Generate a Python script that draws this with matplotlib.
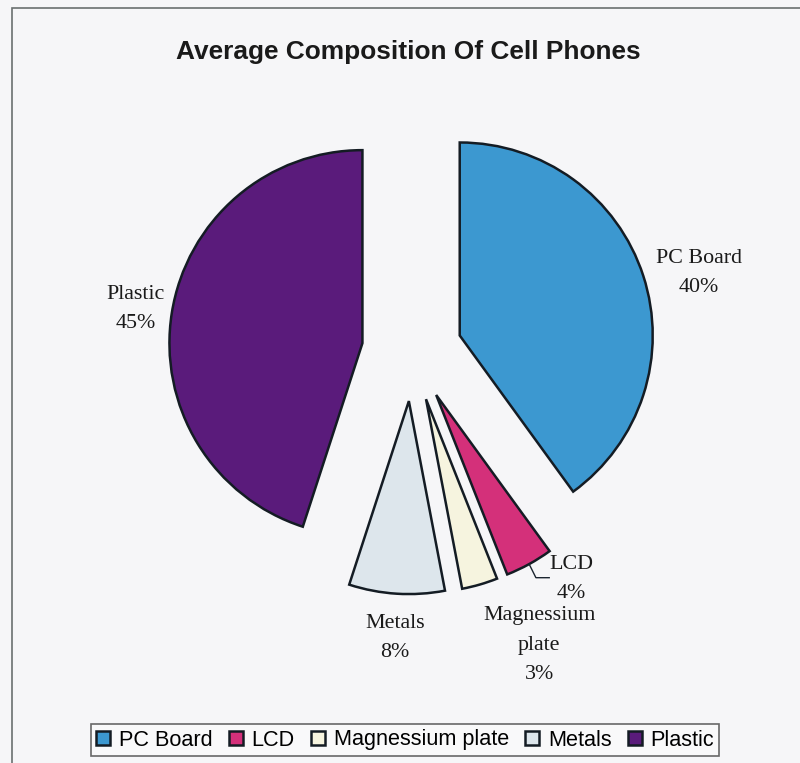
import numpy as np
import matplotlib
matplotlib.use("Agg")
import matplotlib.pyplot as plt
from matplotlib.patches import Rectangle

categories = ["PC Board", "LCD", "Magnessium plate", "Metals", "Plastic"]
values = [40, 4, 3, 8, 45]
pct_labels = ["40%", "4%", "3%", "8%", "45%"]
label_text = ["PC Board", "LCD", "Magnessium\nplate", "Metals", "Plastic"]
colors = ["#3c98d0", "#d4307a", "#f6f4df", "#dde6ec", "#5a1b7b"]
title = "Average Composition Of Cell Phones"

W, H = 800, 763
fig = plt.figure(figsize=(W / 100, H / 100), dpi=100, facecolor="#f6f6f8")

# pie center in pixels and radius in pixels
cx_px, cy_px, r_px = 412, 351, 193
ax = fig.add_axes([0, 0, 1, 1])
ax.set_facecolor("none")

explode = [0.26] * len(values)
wedges, _ = ax.pie(values, colors=colors, startangle=90, counterclock=False,
                   explode=explode, radius=1.0,
                   wedgeprops=dict(edgecolor="#141c24", linewidth=1.8))
ax.set_xlim(-cx_px / r_px, (W - cx_px) / r_px)
ax.set_ylim(-(H - cy_px) / r_px, cy_px / r_px)
ax.set_aspect("auto")
ax.axis("off")

# label placement: (angle deg, distance) from pie center
label_pos = [(15.2, 1.54), (-55.0, 1.44), (-66.6, 1.66), (-93.4, 1.49), (171.4, 1.45)]
lab_font = dict(family=["Liberation Serif", "DejaVu Serif"], fontsize=15.8,
                color="#1a1a1a", linespacing=1.72)
for (ang, dist), lt, pc in zip(label_pos, label_text, pct_labels):
    a = np.deg2rad(ang)
    ax.text(dist * np.cos(a), dist * np.sin(a), lt + "\n" + pc,
            ha="center", va="center", **lab_font)

# leader line for LCD
w = wedges[1]
mid = np.deg2rad((w.theta1 + w.theta2) / 2)
cxw, cyw = w.center
p0 = (cxw + w.r * np.cos(mid), cyw + w.r * np.sin(mid))
a_l = np.deg2rad(label_pos[1][0]); d_l = label_pos[1][1]
lx, ly = d_l * np.cos(a_l), d_l * np.sin(a_l)
p1 = (p0[0] + 0.035, ly + 0.005)
p2 = (lx - 0.115, ly + 0.005)
ax.plot([p0[0], p1[0], p2[0]], [p0[1], p1[1], p2[1]], color="#1b2530", lw=1.0)

fig.text(408 / W, 1 - 52 / H, title, ha="center", va="center",
         family=["Liberation Sans", "DejaVu Sans"], fontweight="bold",
         fontsize=18.9, color="#1a1a1a")

leg = fig.legend(wedges, categories, loc="center", ncol=5,
                 bbox_to_anchor=(405 / W, 1 - 740 / H),
                 prop=dict(family=["Liberation Sans", "DejaVu Sans"], size=15.6),
                 frameon=True, fancybox=False, edgecolor="#444444",
                 handlelength=0.65, handleheight=0.65, handletextpad=0.4,
                 columnspacing=0.75, borderpad=0.25, borderaxespad=0)
leg.get_frame().set_linewidth(1.2)
leg.get_frame().set_facecolor("#fbfbfb")

# chart border
fig.patches.append(Rectangle((12 / W, -0.05), 1.0, 1 - 8 / H + 0.05,
                             transform=fig.transFigure, fill=False,
                             edgecolor="#6a7070", linewidth=1.2))

fig.savefig("out.png", dpi=100, facecolor=fig.get_facecolor())
